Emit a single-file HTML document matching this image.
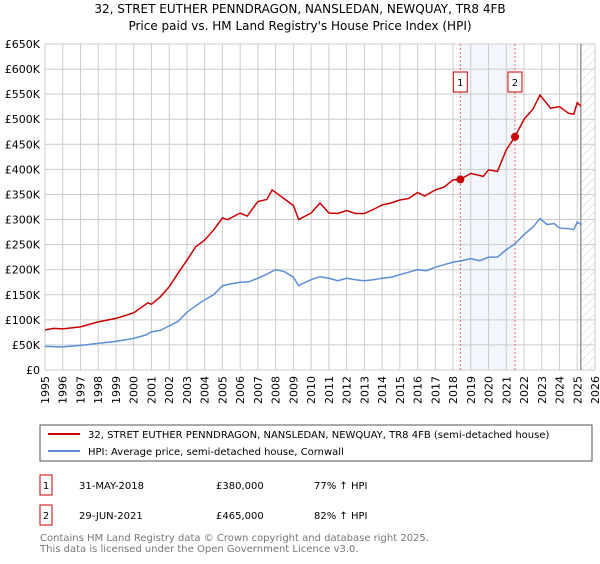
<!DOCTYPE html>
<html><head><meta charset="utf-8"><style>
body{margin:0;background:#fff;font-family:"DejaVu Sans","Liberation Sans",sans-serif;}
svg text{font-family:"DejaVu Sans","Liberation Sans",sans-serif;}
</style></head><body>
<svg id="c" width="600" height="560" xmlns="http://www.w3.org/2000/svg">
<defs><pattern id="hatch" width="6" height="6" patternUnits="userSpaceOnUse" patternTransform="rotate(45)"><line x1="0" y1="0" x2="0" y2="6" stroke="#ccc" stroke-width="1"/></pattern></defs>
<text x="300" y="13" text-anchor="middle" font-size="12">32, STRET EUTHER PENNDRAGON, NANSLEDAN, NEWQUAY, TR8 4FB</text>
<text x="300" y="30" text-anchor="middle" font-size="12">Price paid vs. HM Land Registry's House Price Index (HPI)</text>
<g id="plot"></g>
<rect x="40" y="425" width="552" height="36" fill="#fff" stroke="#555"/>
<line x1="48" y1="434" x2="80" y2="434" stroke="#cc0000" stroke-width="2"/>
<text x="88" y="438" font-size="10">32, STRET EUTHER PENNDRAGON, NANSLEDAN, NEWQUAY, TR8 4FB (semi-detached house)</text>
<line x1="48" y1="451" x2="80" y2="451" stroke="#5b8fd6" stroke-width="2"/>
<text x="88" y="455" font-size="10">HPI: Average price, semi-detached house, Cornwall</text>
<rect x="40" y="475" width="12" height="20" fill="#fff" stroke="#cc0000"/>
<text x="46" y="489" text-anchor="middle" font-size="10">1</text>
<text x="79" y="489" font-size="10">31-MAY-2018</text>
<text x="216" y="489" font-size="10">£380,000</text>
<text x="314" y="489" font-size="10">77% ↑ HPI</text>
<rect x="40" y="505" width="12" height="20" fill="#fff" stroke="#cc0000"/>
<text x="46" y="519" text-anchor="middle" font-size="10">2</text>
<text x="79" y="519" font-size="10">29-JUN-2021</text>
<text x="216" y="519" font-size="10">£465,000</text>
<text x="314" y="519" font-size="10">82% ↑ HPI</text>
<text x="40" y="541" font-size="10" fill="#777">Contains HM Land Registry data © Crown copyright and database right 2025.</text>
<text x="40" y="552" font-size="10" fill="#777">This data is licensed under the Open Government Licence v3.0.</text>
</svg>
<script>
const yTicks=[0,50,100,150,200,250,300,350,400,450,500,550,600,650];
const yLabels=["£0","£50K","£100K","£150K","£200K","£250K","£300K","£350K","£400K","£450K","£500K","£550K","£600K","£650K"];
const xYears=[1995,1996,1997,1998,1999,2000,2001,2002,2003,2004,2005,2006,2007,2008,2009,2010,2011,2012,2013,2014,2015,2016,2017,2018,2019,2020,2021,2022,2023,2024,2025,2026];
const redT=[1995,1995.5,1996,1997,1998,1999,2000,2000.8,2001,2001.5,2002,2002.5,2003,2003.5,2004,2004.5,2005,2005.3,2006,2006.4,2007,2007.5,2007.8,2008.5,2009,2009.3,2010,2010.5,2011,2011.5,2012,2012.5,2013,2013.5,2014,2014.5,2015,2015.5,2016,2016.4,2017,2017.5,2018,2018.41,2019,2019.7,2020,2020.5,2021,2021.49,2022,2022.5,2022.9,2023.5,2024,2024.5,2024.8,2025,2025.2];
const redV=[80,83,82,86,96,103,114,134,131,146,166,193,219,246,259,279,303,300,313,307,336,340,359,341,328,300,313,333,313,312,318,312,312,320,329,333,339,342,354,347,359,365,379,380,392,386,399,396,439,465,500,520,548,522,525,512,510,533,526];
const blueT=[1995,1996,1997,1998,1999,2000,2000.7,2001,2001.5,2002,2002.5,2003,2003.5,2004,2004.5,2005,2005.5,2006,2006.5,2007,2007.5,2008,2008.5,2009,2009.3,2009.5,2010,2010.5,2011,2011.5,2012,2012.5,2013,2013.5,2014,2014.5,2015,2015.5,2016,2016.5,2017,2017.5,2018,2018.5,2019,2019.5,2020,2020.5,2021,2021.5,2022,2022.5,2022.9,2023.3,2023.7,2024,2024.5,2024.8,2025,2025.2];
const blueV=[47,46,49,53,57,63,70,76,79,88,97,115,128,140,150,168,172,175,176,183,191,200,196,185,168,172,180,186,183,178,183,180,178,180,183,185,190,195,200,198,205,210,215,218,222,218,225,225,240,252,270,285,302,290,292,283,282,280,295,290];
const sales=[[2018.41,380],[2021.49,465]];
const x0=45,x1=595,y0=370,y1=44;
const X=t=>x0+(t-1995)/(2026-1995)*(x1-x0);
const Y=v=>y0-v/650*(y0-y1);
const g=document.getElementById('plot');const NS="http://www.w3.org/2000/svg";
function mk(tag,a,p){const e=document.createElementNS(NS,tag);for(const k in a)e.setAttribute(k,a[k]);(p||g).appendChild(e);return e;}
const band=mk('rect',{x:X(2018.41),y:y1,width:X(2021.49)-X(2018.41),height:y0-y1,fill:'#eef3fc',opacity:0.7});


const hat=mk('rect',{x:X(2025.2),y:y1,width:x1-X(2025.2),height:y0-y1,fill:'url(#hatch)'});


yTicks.forEach((v,i)=>{const l=mk('line',{x1:x0,x2:x1,y1:Y(v),y2:Y(v),stroke:'#ccc'});


const t=mk('text',{x:x0-5,y:Y(v)+4,'text-anchor':'end','font-size':11});t.textContent=yLabels[i];

});
xYears.forEach(yr=>{const l=mk('line',{x1:X(yr),x2:X(yr),y1:y1,y2:y0,stroke:'#ccc'});


const t=mk('text',{x:0,y:0,'text-anchor':'end','font-size':11,transform:`translate(${X(yr)+4},${y0+6}) rotate(-90)`});t.textContent=yr;

});
const nl=mk('line',{x1:X(2025.2),x2:X(2025.2),y1:y1,y2:y0,stroke:'#999','stroke-width':1.5});


sales.forEach((s,i)=>{const l=mk('line',{x1:X(s[0]),x2:X(s[0]),y1:y1,y2:y0,stroke:'#e66','stroke-dasharray':'2,2'});


const r=mk('rect',{x:X(s[0])-7,y:72,width:14,height:20,fill:'#fff',stroke:'#cc0000'});


const t=mk('text',{x:X(s[0]),y:86,'text-anchor':'middle','font-size':10});t.textContent=String(i+1);

});
const pb=mk('polyline',{points:blueT.map((t,i)=>X(t)+','+Y(blueV[i])).join(' '),fill:'none',stroke:'#5b8fd6','stroke-width':1.5});


const pr=mk('polyline',{points:redT.map((t,i)=>X(t)+','+Y(redV[i])).join(' '),fill:'none',stroke:'#cc0000','stroke-width':1.5});


sales.forEach(s=>{const c=mk('circle',{cx:X(s[0]),cy:Y(s[1]),r:4,fill:'#cc0000'});

});
</script>
</body></html>
